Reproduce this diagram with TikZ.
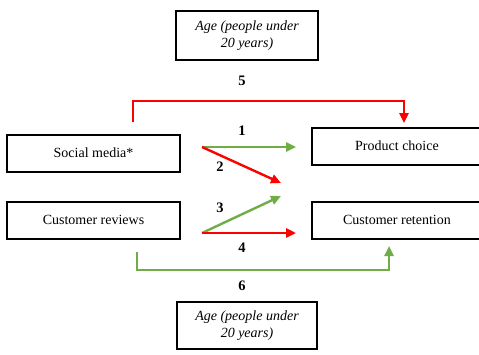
\documentclass[tikz,border=0pt]{standalone}
\usepackage{fontspec}
\setmainfont{Liberation Serif}
\usetikzlibrary{arrows.meta}
\definecolor{myred}{RGB}{255,0,0}
\definecolor{mygreen}{RGB}{112,173,71}
\begin{document}
\begin{tikzpicture}[x=1pt,y=-1pt,
  box/.style={draw=black,line width=1.6pt,inner sep=0pt,align=center,font=\fontsize{14}{16.5}\selectfont},
  agebox/.style={box,font=\fontsize{14}{16.5}\selectfont\itshape},
  num/.style={font=\fontsize{14.5}{16}\selectfont\bfseries,inner sep=0pt},
  redarr/.style={draw=myred,line width=2.4pt,-{Triangle[length=10pt,width=9pt]}},
  greenarr/.style={draw=mygreen,line width=2.4pt,-{Triangle[length=10pt,width=9pt]}}]
\useasboundingbox (0,0) rectangle (479,354);
\node[agebox,minimum width=142pt,minimum height=49pt] (top) at (247,35.5) {Age (people under\\20 years)};
\node[agebox,minimum width=140pt,minimum height=47pt] (bot) at (247,325.5) {Age (people under\\20 years)};
\node[box,minimum width=173pt,minimum height=37pt] (sm) at (93.5,153.5) {\raisebox{2pt}{Social media*}};
\node[box,minimum width=173pt,minimum height=37pt] (cr) at (93.5,220.5) {\raisebox{2pt}{Customer reviews}};
\node[box,minimum width=170pt,minimum height=37pt] (pc) at (397,146.5) {\raisebox{2pt}{Product choice}};
\node[box,minimum width=170pt,minimum height=37pt] (ret) at (397,220.5) {\raisebox{2pt}{Customer retention}};
\coordinate (s1) at (202,147);
\coordinate (e1) at (296,147);
\coordinate (e2) at (281,183);
\coordinate (s3) at (202,233);
\coordinate (e3) at (281,196);
\coordinate (e4) at (296,233);
\coordinate (s5) at (133,122);
\coordinate (e5) at (404,123);
\coordinate (s6) at (137,252);
\coordinate (e6) at (389,246);
\draw[greenarr] (s1) -- (e1);
\draw[redarr] (s1) -- (e2);
\draw[greenarr] (s3) -- (e3);
\draw[redarr] (s3) -- (e4);
\draw[redarr] (s5) |- (269,101) -| (e5);
\draw[greenarr] (s6) |- (263,270) -| (e6);
\node[num] (n1) at (242,131) {1};
\node[num] (n2) at (220,167) {2};
\node[num] (n3) at (220,208) {3};
\node[num] (n4) at (242,248) {4};
\node[num] (n5) at (242,81) {5};
\node[num] (n6) at (242,286) {6};
\end{tikzpicture}
\end{document}
